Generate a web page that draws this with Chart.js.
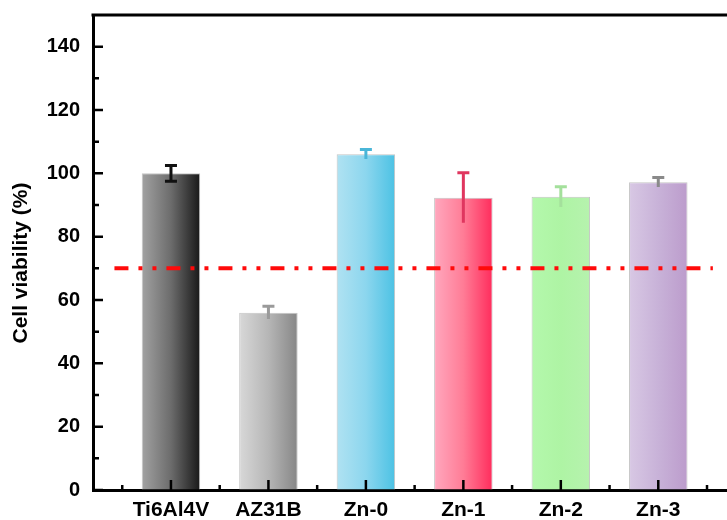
<!DOCTYPE html>
<html>
<head>
<meta charset="utf-8">
<script src="https://cdn.jsdelivr.net/npm/chart.js@4.4.0/dist/chart.umd.min.js"></script>
<style>
  html, body { margin: 0; padding: 0; background: #fff; overflow: hidden; }
  #wrap { width: 750px; height: 520px; }
</style>
</head>
<body>
<div id="wrap"><canvas id="c" width="750" height="520"></canvas></div>
<script>
// Cell viability per material (%), with standard deviations
const categories = ['Ti6Al4V', 'AZ31B', 'Zn-0', 'Zn-1', 'Zn-2', 'Zn-3'];
const viability = [100.0, 56.0, 106.0, 92.3, 92.6, 97.2];
const viabilityError = [2.5, 2.0, 1.5, 7.9, 3.2, 1.5];
const yTickValues = [0, 20, 40, 60, 80, 100, 120, 140];
const yMinorTickValues = [10, 30, 50, 70, 90, 110, 130];
const thresholdValue = 70;

// Styling: cylinder-like shading for each bar (left, middle, right)
const barShades = [
  ['#a2a2a2', '#6c6c6c', '#181818'],
  ['#d8d8d8', '#b6b6b6', '#868686'],
  ['#b0e2f2', '#8cd6ee', '#4cc2e4'],
  ['#ffa8be', '#ff7c96', '#ff2c5c'],
  ['#b4f8ac', '#aef4a4', '#b6f2ae'],
  ['#d8c8e4', '#c8b2d8', '#bc9ccc']
];
const errorColors = ['#111111', '#9a9a9a', '#4ab6d8', '#e0365f', '#a4e09c', '#8a8a8a'];
const FONT = '"Liberation Sans", Arial, sans-serif';

const decor = {
  id: 'decor',
  beforeDatasetsDraw(chart) {
    const ctx = chart.ctx;
    const meta = chart.getDatasetMeta(0);
    meta.data.forEach((bar, i) => {
      const { x, width } = bar.getProps(['x', 'width'], true);
      const g = ctx.createLinearGradient(x - width / 2, 0, x + width / 2, 0);
      const s = barShades[i];
      g.addColorStop(0, s[0]);
      g.addColorStop(0.5, s[1]);
      g.addColorStop(1, s[2]);
      bar.options.backgroundColor = g;
    });
  },
  afterDatasetsDraw(chart) {
    const ctx = chart.ctx;
    const xs = chart.scales.x, ys = chart.scales.y;
    const area = chart.chartArea;

    // error bars (the lower cap only shows on the dark bar)
    ctx.save();
    ctx.lineCap = 'butt';
    viability.forEach((v, i) => {
      const px = xs.getPixelForValue(i + 1);
      const top = ys.getPixelForValue(v + viabilityError[i]);
      const bot = ys.getPixelForValue(v - viabilityError[i]);
      ctx.strokeStyle = errorColors[i];
      ctx.lineWidth = 3;
      ctx.beginPath();
      ctx.moveTo(px, top); ctx.lineTo(px, bot);
      ctx.moveTo(px - 6, top); ctx.lineTo(px + 6, top);
      if (i === 0) { ctx.moveTo(px - 6, bot); ctx.lineTo(px + 6, bot); }
      ctx.stroke();
    });
    ctx.restore();

    // 70 % reference line
    ctx.save();
    const ty = ys.getPixelForValue(thresholdValue);
    ctx.strokeStyle = '#ff0a0a';
    ctx.lineWidth = 4;
    ctx.setLineDash([14, 10, 4, 10, 4, 10]);
    ctx.beginPath();
    ctx.moveTo(xs.getPixelForValue(0.42), ty);
    ctx.lineTo(xs.getPixelForValue(6.56), ty);
    ctx.stroke();
    ctx.restore();

    // inward tick marks and top frame
    ctx.save();
    ctx.strokeStyle = '#000';
    ctx.lineWidth = 2.5;
    ctx.beginPath();
    yTickValues.forEach(v => {
      const y = ys.getPixelForValue(v);
      ctx.moveTo(area.left, y); ctx.lineTo(area.left + 10, y);
    });
    yMinorTickValues.forEach(v => {
      const y = ys.getPixelForValue(v);
      ctx.moveTo(area.left, y); ctx.lineTo(area.left + 6, y);
    });
    categories.forEach((c, i) => {
      const x = xs.getPixelForValue(i + 1);
      ctx.moveTo(x, area.bottom); ctx.lineTo(x, area.bottom - 10);
    });
    for (let k = 0; k <= categories.length; k++) {
      const x = xs.getPixelForValue(k + 0.5);
      ctx.moveTo(x, area.bottom); ctx.lineTo(x, area.bottom - 5);
    }
    ctx.stroke();
    ctx.lineWidth = 3;
    ctx.beginPath();
    ctx.moveTo(area.left - 1.5, area.top);
    ctx.lineTo(chart.width, area.top);
    ctx.stroke();

    // y-axis title
    ctx.translate(21, 263);
    ctx.rotate(-Math.PI / 2);
    ctx.fillStyle = '#000';
    ctx.font = 'bold 21px ' + FONT;
    ctx.textAlign = 'center';
    ctx.textBaseline = 'middle';
    ctx.fillText('Cell viability (%)', 0, 0);
    ctx.restore();
  }
};

new Chart(document.getElementById('c'), {
  type: 'bar',
  data: {
    datasets: [{
      data: categories.map((c, i) => ({ x: i + 1, y: viability[i] })),
      // one entry per bar so each bar keeps its own options object
      backgroundColor: barShades.map(s => s[1]),
      borderColor: '#c4c4c4',
      borderWidth: 1,
      barPercentage: 0.6,
      categoryPercentage: 1
    }]
  },
  options: {
    responsive: false,
    animation: false,
    devicePixelRatio: 1,
    layout: { padding: { top: 15, right: 4, left: 0, bottom: 0 } },
    plugins: { legend: { display: false }, tooltip: { enabled: false } },
    scales: {
      x: {
        type: 'linear',
        min: 0.2,
        max: 6.9,
        offset: false,
        afterBuildTicks: s => { s.ticks = categories.map((c, i) => ({ value: i + 1 })); },
        afterFit: s => { s.height = 30; s.paddingLeft = 0; s.paddingRight = 0; },
        ticks: {
          callback: v => categories[v - 1] ?? '',
          font: { family: FONT, size: 21, weight: 'bold' },
          color: '#000',
          padding: 8,
          maxRotation: 0,
          autoSkip: false
        },
        grid: { display: true, drawOnChartArea: false, drawTicks: false },
        border: { display: true, width: 3, color: '#000' }
      },
      y: {
        min: 0,
        max: 150,
        afterBuildTicks: s => { s.ticks = yTickValues.map(v => ({ value: v })); },
        afterFit: s => { s.width = 93; s.paddingTop = 0; s.paddingBottom = 0; },
        ticks: {
          font: { family: FONT, size: 20, weight: 'bold' },
          color: '#000',
          padding: 13
        },
        grid: { display: true, drawOnChartArea: false, drawTicks: false },
        border: { display: true, width: 3, color: '#000' }
      }
    }
  },
  plugins: [decor]
});
</script>
</body>
</html>
